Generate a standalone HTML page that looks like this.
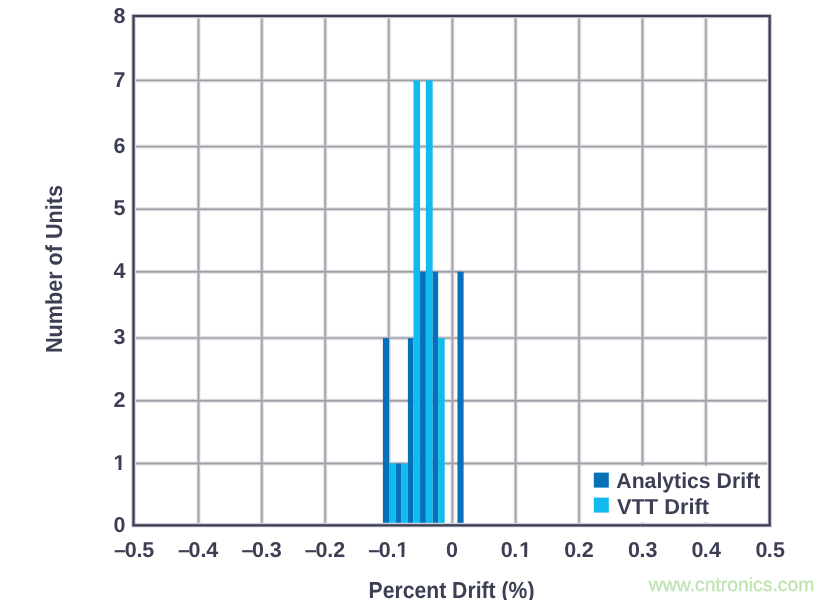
<!DOCTYPE html><html><head><meta charset="utf-8"><style>
html,body{margin:0;padding:0;background:#fff;}body{width:833px;height:600px;overflow:hidden;}
svg{display:block;text-rendering:geometricPrecision;will-change:transform;}text{font-family:"Liberation Sans",Arial,sans-serif;font-weight:bold;fill:#3c3f54;}
</style></head><body>
<svg width="833" height="600" viewBox="0 0 833 600">
<rect x="0" y="0" width="833" height="600" fill="#fff"/>
<path d="M198.50 16.00V525.30M261.80 16.00V525.30M325.20 16.00V525.30M388.80 16.00V525.30M452.40 16.00V525.30M515.60 16.00V525.30M579.10 16.00V525.30M642.50 16.00V525.30M705.90 16.00V525.30M133.50 80.40H769.70M133.50 146.60H769.70M133.50 209.20H769.70M133.50 271.70H769.70M133.50 338.10H769.70M133.50 400.70H769.70M133.50 463.50H769.70" stroke="#eeeef0" stroke-width="4.60" fill="none"/>
<path d="M198.50 16.00V525.30M261.80 16.00V525.30M325.20 16.00V525.30M388.80 16.00V525.30M452.40 16.00V525.30M515.60 16.00V525.30M579.10 16.00V525.30M642.50 16.00V525.30M705.90 16.00V525.30M133.50 80.40H769.70M133.50 146.60H769.70M133.50 209.20H769.70M133.50 271.70H769.70M133.50 338.10H769.70M133.50 400.70H769.70M133.50 463.50H769.70" stroke="#d0d0d5" stroke-width="3.00" fill="none"/>
<path d="M198.50 16.00V525.30M261.80 16.00V525.30M325.20 16.00V525.30M388.80 16.00V525.30M452.40 16.00V525.30M515.60 16.00V525.30M579.10 16.00V525.30M642.50 16.00V525.30M705.90 16.00V525.30M133.50 80.40H769.70M133.50 146.60H769.70M133.50 209.20H769.70M133.50 271.70H769.70M133.50 338.10H769.70M133.50 400.70H769.70M133.50 463.50H769.70" stroke="#9e9ea6" stroke-width="1.40" fill="none"/>
<rect x="382.90" y="338.10" width="6.10" height="187.20" fill="#0670b9"/>
<rect x="389.00" y="463.50" width="6.60" height="61.80" fill="#12bbee"/>
<rect x="395.60" y="463.50" width="5.50" height="61.80" fill="#0670b9"/>
<rect x="401.10" y="463.50" width="6.80" height="61.80" fill="#12bbee"/>
<rect x="407.90" y="338.10" width="5.60" height="187.20" fill="#0670b9"/>
<rect x="413.50" y="80.40" width="6.55" height="444.90" fill="#12bbee"/>
<rect x="420.05" y="271.70" width="5.80" height="253.60" fill="#0670b9"/>
<rect x="425.85" y="80.40" width="6.80" height="444.90" fill="#12bbee"/>
<rect x="432.65" y="271.70" width="5.50" height="253.60" fill="#0670b9"/>
<rect x="438.15" y="338.10" width="6.55" height="187.20" fill="#12bbee"/>
<rect x="457.45" y="271.70" width="6.15" height="253.60" fill="#0670b9"/>
<rect x="588" y="465.8" width="180" height="56.5" fill="#fff"/>
<rect x="593.8" y="472.6" width="15" height="15" fill="#0670b9"/>
<rect x="593.8" y="497.6" width="15" height="15" fill="#12bbee"/>
<text x="616.30" y="487.70" font-size="21.60" text-anchor="start" textLength="143.90" lengthAdjust="spacingAndGlyphs">Analytics Drift</text>
<text x="617.00" y="513.70" font-size="21.60" text-anchor="start" textLength="92.00" lengthAdjust="spacingAndGlyphs">VTT Drift</text>
<rect x="133.50" y="16.00" width="636.20" height="509.30" fill="none" stroke="#ebebee" stroke-width="5.00"/>
<rect x="133.50" y="16.00" width="636.20" height="509.30" fill="none" stroke="#a2a4ae" stroke-width="3.40"/>
<rect x="133.50" y="16.00" width="636.20" height="509.30" fill="none" stroke="#3c3f54" stroke-width="2.00"/>
<text x="125.40" y="532.05" font-size="21.50" text-anchor="end">0</text>
<text x="125.40" y="470.10" font-size="21.50" text-anchor="end">1</text>
<text x="125.40" y="407.40" font-size="21.50" text-anchor="end">2</text>
<text x="125.40" y="344.40" font-size="21.50" text-anchor="end">3</text>
<text x="125.40" y="277.70" font-size="21.50" text-anchor="end">4</text>
<text x="125.40" y="215.40" font-size="21.50" text-anchor="end">5</text>
<text x="125.40" y="152.50" font-size="21.50" text-anchor="end">6</text>
<text x="125.40" y="87.30" font-size="21.50" text-anchor="end">7</text>
<text x="125.40" y="22.65" font-size="21.50" text-anchor="end">8</text>
<text x="114.06 124.66 136.51 142.36" y="556.80" font-size="21.50">–0.5</text>
<text x="177.94 188.54 200.39 206.24" y="556.80" font-size="21.50">–0.4</text>
<text x="241.40 252.00 263.85 269.70" y="556.80" font-size="21.50">–0.3</text>
<text x="304.84 315.44 327.29 333.14" y="556.80" font-size="21.50">–0.2</text>
<text x="368.16 378.76 390.61 396.40" y="556.80" font-size="21.50">–0.1</text>
<text x="445.95" y="556.80" font-size="21.50">0</text>
<text x="500.72 512.17 519.15" y="556.80" font-size="21.50">0.1</text>
<text x="564.36 575.81 581.86" y="556.80" font-size="21.50">0.2</text>
<text x="628.12 639.57 645.62" y="556.80" font-size="21.50">0.3</text>
<text x="691.40 702.85 708.90" y="556.80" font-size="21.50">0.4</text>
<text x="755.39 766.84 772.89" y="556.80" font-size="21.50">0.5</text>
<rect x="113.80" y="467.01" width="4.66" height="4.29" fill="#fff"/>
<rect x="121.41" y="467.01" width="4.39" height="4.29" fill="#fff"/>
<rect x="396.75" y="553.71" width="4.66" height="4.29" fill="#fff"/>
<rect x="404.37" y="553.71" width="4.39" height="4.29" fill="#fff"/>
<rect x="519.50" y="553.71" width="4.66" height="4.29" fill="#fff"/>
<rect x="527.12" y="553.71" width="4.39" height="4.29" fill="#fff"/>
<text x="451.50" y="597.50" font-size="23.20" text-anchor="middle" textLength="165.90" lengthAdjust="spacingAndGlyphs">Percent Drift (%)</text>
<text transform="translate(61.70,269.00) rotate(-90)" x="0" y="0" font-size="23.20" text-anchor="middle" textLength="168.00" lengthAdjust="spacingAndGlyphs">Number of Units</text>
<text x="648.80" y="590.80" font-size="19.00" textLength="165.50" lengthAdjust="spacingAndGlyphs" style="font-weight:normal;fill:#c0e4b4;stroke:#c0e4b4;stroke-width:0.35">www.cntronics.com</text>
</svg></body></html>
